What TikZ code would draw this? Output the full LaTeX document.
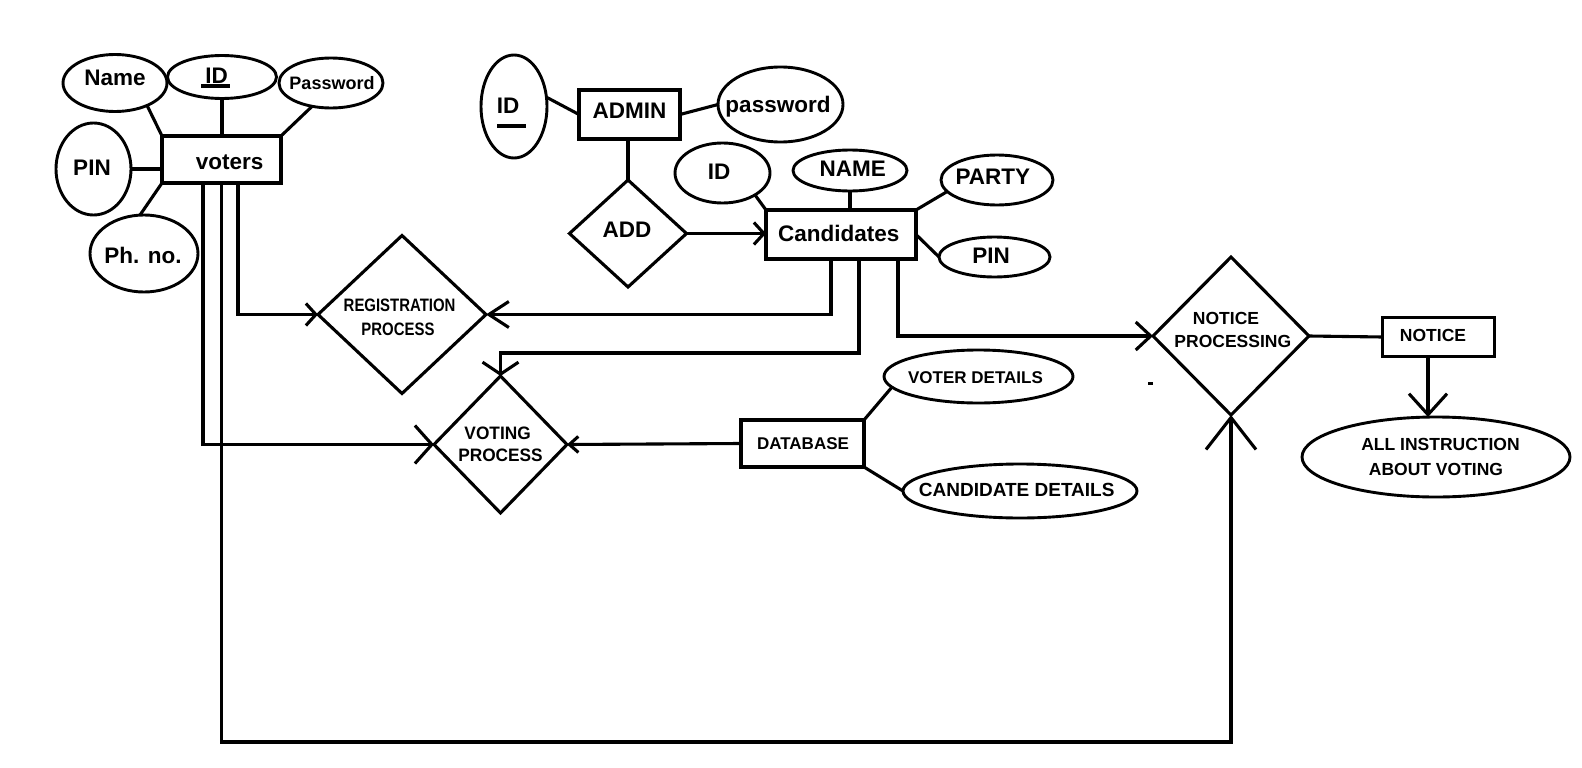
\documentclass[tikz,border=0pt]{standalone}
\usepackage{fontspec}
\setmainfont{Liberation Sans}
\usepackage{graphicx}
\usetikzlibrary{shapes.geometric,arrows.meta,calc}
\tikzset{
  ent/.style={draw, rectangle, line width=3.3pt, inner sep=0pt, outer sep=0pt},
  att/.style={draw, ellipse, line width=2.9pt, inner sep=0pt, outer sep=0pt},
  rel/.style={draw, diamond, line width=3.1pt, inner sep=0pt, outer sep=0pt},
  lbl/.style={anchor=base, inner sep=0pt, font=\bfseries\fontsize{22.5}{27}\selectfont},
  slbl/.style={anchor=base, inner sep=0pt, font=\bfseries\fontsize{17.5}{21}\selectfont},
  con/.style={line width=3.1pt},
  headin/.style 2 args={-{Straight Barb[length=#1pt,width=#2pt]}},
}
\begin{document}
\begin{tikzpicture}[x=1pt,y=-1pt]
\useasboundingbox (0,0) rectangle (1582,768);

% ---------- voters ----------
\node[ent, minimum width=119pt, minimum height=47pt] (voters) at (221.5,159.5) {};
\node[lbl] at (229.7,169) {voters};
\node[att, minimum width=104pt, minimum height=57pt] (vName) at (115,83) {};
\node[lbl] at (115,85) {Name};
\node[att, minimum width=109pt, minimum height=43pt] (vID) at (222,77) {};
\node[lbl] (vIDt) at (216.5,83) {ID};
\draw[line width=4pt] ([xshift=-4pt,yshift=-2.5pt]vIDt.base west) -- ([xshift=2pt,yshift=-2.5pt]vIDt.base east);
\node[att, minimum width=104pt, minimum height=50pt] (vPass) at (331,83) {};
\node[lbl, font=\bfseries\fontsize{18}{21}\selectfont] at (332,89) {Password};
\node[att, minimum width=75pt, minimum height=92pt] (vPIN) at (93.5,169) {};
\node[lbl] at (92,175) {PIN};
\node[att, minimum width=108pt, minimum height=77pt] (vPh) at (144,253.5) {};
\node[lbl] at (143,263) {Ph. no.};

\draw[con] (vName.-35) -- (voters.north west);
\draw[con] (vID.south) -- (vID.south |- voters.north);
\draw[con] (vPass.-129) -- (voters.north east);
\draw[con] (vPIN.east) -- (vPIN.east -| voters.west);
\draw[con] (vPh.96) -- (voters.south west);

% ---------- admin ----------
\node[ent, minimum width=101pt, minimum height=49pt] (admin) at (629.5,114.5) {};
\node[lbl] at (629.5,118) {ADMIN};
\node[att, minimum width=66pt, minimum height=103pt] (aID) at (514,106.5) {};
\node[lbl] (aIDt) at (508,113) {ID};
\draw[line width=4pt] ([xshift=0.5pt,yshift=-13pt]aIDt.base west) -- ([xshift=6.5pt,yshift=-13pt]aIDt.base east);
\node[att, minimum width=125pt, minimum height=75pt] (aPass) at (780.5,104.5) {};
\node[lbl] at (778,112) {password};
\node[rel, minimum width=117pt, minimum height=107pt] (add) at (628,233.5) {};
\node[lbl] at (627,237) {ADD};

\draw[con] (aID.16) -- (admin.west);
\draw[con] (admin.east) -- (aPass.west);
\draw[con] (add.north |- admin.south) -- (add.north);

% ---------- candidates ----------
\node[ent, minimum width=150pt, minimum height=49pt] (cand) at (841,234.5) {};
\node[lbl] at (838.8,241) {Candidates};
\node[att, minimum width=95pt, minimum height=60pt] (cID) at (722.5,173) {};
\node[lbl] at (719,179) {ID};
\node[att, minimum width=114pt, minimum height=41pt] (cName) at (850,170.5) {};
\node[lbl] at (852.7,176) {NAME};
\node[att, minimum width=112pt, minimum height=50pt] (cParty) at (997,180) {};
\node[lbl] at (992.8,184) {PARTY};
\node[att, minimum width=111pt, minimum height=40pt] (cPIN) at (994.5,257) {};
\node[lbl] at (991,263) {PIN};

\draw[con, headin={10}{22}] (add.east) -- (add.east -| cand.west);
\draw[con] (cID.-34) -- (cand.north west);
\draw[con] (cName.south) -- (cName.south |- cand.north);
\draw[con] (cParty.193) -- (cand.north east);
\draw[con] (cand.east) -- (cPIN.west);

% ---------- processes ----------
\node[rel, minimum width=168pt, minimum height=158pt] (reg) at (402,314.5) {};
\node[slbl, font=\bfseries\fontsize{18}{21}\selectfont] at (399.6,311) {\scalebox{0.83}[1]{REGISTRATION}};
\node[slbl, font=\bfseries\fontsize{18}{21}\selectfont] at (398,335) {\scalebox{0.83}[1]{PROCESS}};

\node[rel, minimum width=133pt, minimum height=137pt] (vote) at (500.5,444.5) {};
\node[slbl, font=\bfseries\fontsize{18}{21}\selectfont] at (497.6,439) {\scalebox{0.96}[1]{VOTING}};
\node[slbl, font=\bfseries\fontsize{18}{21}\selectfont] at (500.5,461) {\scalebox{0.96}[1]{PROCESS}};

\node[rel, minimum width=156pt, minimum height=158pt] (np) at (1231,336) {};
\node[slbl] at (1226,324) {NOTICE};
\node[slbl] at (1232.8,347) {PROCESSING};

\node[ent, minimum width=112pt, minimum height=39pt] (notice) at (1438.5,337) {};
\node[slbl] at (1433,341) {NOTICE};
\node[att, minimum width=268pt, minimum height=80pt] (instr) at (1436,457) {};
\node[slbl] at (1440.5,450) {ALL INSTRUCTION};
\node[slbl] at (1436,475) {ABOUT VOTING};

% ---------- database ----------
\node[ent, minimum width=123pt, minimum height=47pt] (db) at (802.5,443.5) {};
\node[slbl, font=\bfseries\fontsize{17}{20}\selectfont] at (803,449) {DATABASE};
\node[att, minimum width=189pt, minimum height=53pt] (vdet) at (978.5,376.5) {};
\node[slbl, font=\bfseries\fontsize{17}{20}\selectfont] at (975.5,383) {VOTER DETAILS};
\node[att, minimum width=234pt, minimum height=54pt] (cdet) at (1020,491) {};
\node[slbl, font=\bfseries\fontsize{19}{22}\selectfont] at (1016.7,496) {CANDIDATE DETAILS};

\draw[con] (db.north east) -- (vdet.187);
\draw[con] (db.south east) -- (cdet.west);

% ---------- connectors ----------
\coordinate (bot) at (0,742);
\draw[con, headin={10}{22}] ([xshift=16.5pt]voters.south) |- (reg.west);
\draw[con, headin={17}{38}] ([xshift=-18.5pt]voters.south) |- (vote.west);
\draw[con, headin={32}{50}] (voters.south) -- (voters.south |- bot) -| (np.south);
\draw[con, headin={20}{26}] ([xshift=-10pt]cand.south) |- (reg.east);
\draw[con, headin={12}{36}] ([xshift=18pt]cand.south) |- ([yshift=23pt]vote.north) -- (vote.north);
\draw[con, headin={15}{28}] ([xshift=57pt]cand.south) |- (np.west);
\draw[con, headin={9}{16}] (db.west) -- (vote.east);
\draw[con] (np.east) -- (notice.west);
\draw[con, headin={21}{38}] ([xshift=-10.5pt]notice.south) -- ([xshift=-10.5pt]notice.south |- instr.north);

\fill (1147.5,381.5) rectangle (1152.5,384.5);
\end{tikzpicture}
\end{document}
